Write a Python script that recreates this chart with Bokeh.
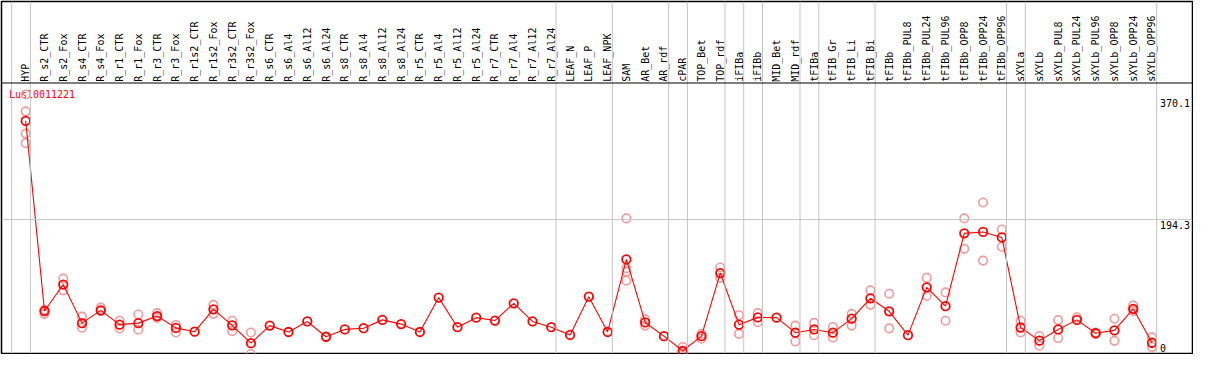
import math
from bokeh.plotting import figure
from bokeh.models import Range1d, Span, ColumnDataSource
from bokeh.embed import file_html
from bokeh.resources import INLINE
from bokeh.core.properties import value

# ---------------- data ----------------
gene = "Lus10011221"

samples = [
    "HYP", "R_s2_CTR", "R_s2_Fox", "R_s4_CTR", "R_s4_Fox", "R_r1_CTR", "R_r1_Fox",
    "R_r3_CTR", "R_r3_Fox", "R_r1s2_CTR", "R_r1s2_Fox", "R_r3s2_CTR", "R_r3s2_Fox",
    "R_s6_CTR", "R_s6_Al4", "R_s6_Al12", "R_s6_Al24", "R_s8_CTR", "R_s8_Al4",
    "R_s8_Al12", "R_s8_Al24", "R_r5_CTR", "R_r5_Al4", "R_r5_Al12", "R_r5_Al24",
    "R_r7_CTR", "R_r7_Al4", "R_r7_Al12", "R_r7_Al24", "LEAF_N", "LEAF_P", "LEAF_NPK",
    "SAM", "AR_Bet", "AR_rdf", "cPAR", "TOP_Bet", "TOP_rdf", "iFIBa", "iFIBb",
    "MID_Bet", "MID_rdf", "tFIBa", "tFIB_Gr", "tFIB_Li", "tFIB_Bi", "tFIBb",
    "tFIBb_PUL8", "tFIBb_PUL24", "tFIBb_PUL96", "tFIBb_OPP8", "tFIBb_OPP24",
    "tFIBb_OPP96", "sXYLa", "sXYLb", "sXYLb_PUL8", "sXYLb_PUL24", "sXYLb_PUL96",
    "sXYLb_OPP8", "sXYLb_OPP24", "sXYLb_OPP96",
]

means = [
    337.0, 62.1, 100.4, 44.6, 63.1, 42.4, 44.6, 54.8, 37.7, 32.2, 64.5, 41.4, 15.6,
    41.0, 31.8, 47.0, 24.9, 35.5, 37.3, 49.3, 43.2, 31.8, 81.5, 38.7, 52.5,
    48.3, 73.2, 47.0, 38.7, 27.6, 82.9, 31.8,
    136.7, 45.6, 25.8, 4.6, 25.8, 117.0, 42.4, 52.9, 52.5, 30.8, 35.5, 30.8, 51.1,
    80.5, 61.7, 27.2, 96.3, 69.1, 174.4, 176.4, 168.5, 38.3, 19.3, 35.5, 49.3,
    30.0, 34.1, 65.3, 16.2,
]

replicates = [
    [375.2, 350.8, 318.6, 304.8], [64, 58], [109, 92], [54, 38], [67, 62], [48, 37],
    [57, 35], [59, 52], [42, 31], [], [71, 58], [48, 33], [31, 0],
    [], [], [], [], [], [], [], [], [], [], [], [], [], [], [], [], [], [], [],
    [196, 124, 119, 106], [50, 41], [], [10, 3], [29, 22], [125, 110], [56, 29],
    [59, 46], [], [41, 18], [45, 27], [39, 24], [58, 41], [92, 71], [87, 37], [],
    [110, 84], [89, 48], [196, 152], [219, 135], [180, 155], [48, 31], [26, 12],
    [49, 23], [53], [31, 29], [51, 19], [70, 62], [24, 10],
]

# last sample index of each group (vertical separators)
group_ends = [-1, 0, 28, 31, 34, 35, 37, 38, 39, 41, 42, 45, 52, 53, 60]

y_ticks = [0, 194.3, 370.1]
y_tick_labels = ["0", "194.3", "370.1"]

# ---------------- layout ----------------
W, H = 1193, 354
PITCH, X0 = 19.0, 26.0          # reference pixel pitch / first sample position
PY, Y0 = 0.7241, 369.0          # reference px per unit / zero line


def rx(px):
    return (px - X0) / PITCH


def ry(px):
    return (Y0 - px) / PY


FONT = value("DejaVu Sans Mono")

p = figure(width=W, height=H, output_backend="svg", toolbar_location=None,
           x_range=Range1d(rx(1.5), rx(1207.0)),
           y_range=Range1d(ry(368.5), ry(0.0)),
           min_border_left=1, min_border_right=1, min_border_top=1, min_border_bottom=1)
p.axis.visible = False
p.grid.visible = False
p.outline_line_color = "black"
p.outline_line_width = 1.5
p.background_fill_color = "white"
p.border_fill_color = "white"

grey = "#c4c4c4"
for g in group_ends:
    p.add_layout(Span(location=g + 0.25, dimension="height", line_color=grey, line_width=1))
p.add_layout(Span(location=y_ticks[1], dimension="width", line_color=grey, line_width=1))
p.add_layout(Span(location=ry(85.3), dimension="width", line_color="black", line_width=1.2))

xs = list(range(len(samples)))

# header labels
p.text(x=xs, y=[ry(84.0)] * len(xs), text=samples, angle=math.pi / 2,
       text_font=FONT, text_font_size="10px", text_align="left",
       text_baseline="middle", text_color="black")

# gene label
p.text(x=[rx(9.0)], y=[ry(97.3)], text=[gene], text_font=FONT, text_font_size="10px",
       text_align="left", text_baseline="middle", text_color="red")

# y tick labels
lab_x = rx(1174.0)
p.text(x=[lab_x] * 2, y=y_ticks[1:], text=y_tick_labels[1:], text_font=FONT,
       text_font_size="10px", text_align="left", text_baseline="top",
       y_offset=1.5, text_color="black")
p.text(x=[lab_x], y=y_ticks[:1], text=y_tick_labels[:1], text_font=FONT,
       text_font_size="10px", text_align="left", text_baseline="bottom",
       y_offset=-2, text_color="black")

# replicate points
rx_pts, ry_pts = [], []
for i, reps in enumerate(replicates):
    for r in reps:
        rx_pts.append(i)
        ry_pts.append(r)
p.scatter(x=rx_pts, y=ry_pts, marker="circle", size=8.5, fill_color=None,
          line_color="#f09a9a", line_width=1.6)

# mean line + points
src = ColumnDataSource(dict(x=xs, y=means))
p.line("x", "y", source=src, line_color="red", line_width=1.1)
p.scatter("x", "y", source=src, marker="circle", size=8.5, fill_color=None,
          line_color="red", line_width=1.8)

open("out.html", "w").write(file_html(p, INLINE))
